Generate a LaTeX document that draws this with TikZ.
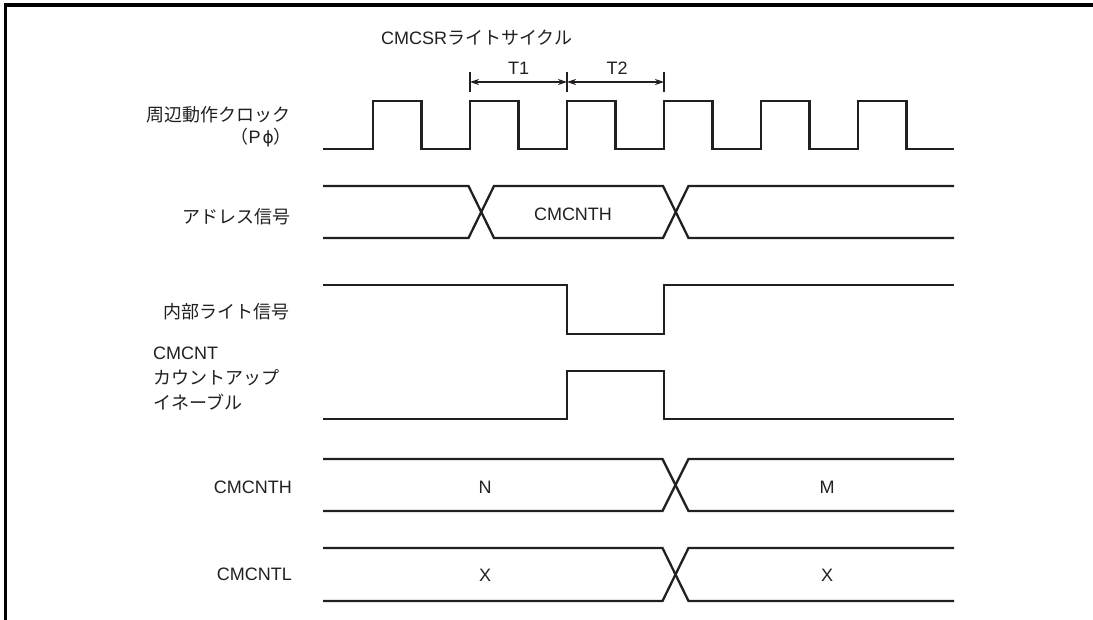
\documentclass[tikz,border=0pt]{standalone}
\usepackage{fontspec}
\setmainfont{Liberation Sans}
\newfontfamily\cjk{Noto Sans CJK JP}
\newfontfamily\djv{DejaVu Sans}
\usetikzlibrary{arrows.meta}
\definecolor{ink}{RGB}{35,31,32}
\tikzset{
  wave/.style={draw=ink, line width=2.3pt, line join=miter},
  lbl/.style={inner sep=0pt, text=ink, font=\fontsize{18}{21}\selectfont},
  dim/.style={draw=ink, line width=1.1pt, {Stealth[length=9pt,width=6pt]}-{Stealth[length=9pt,width=6pt]}},
  tick/.style={draw=ink, line width=1.1pt},
  frame/.style={draw=black, line width=3.2pt}
}
\begin{document}
\begin{tikzpicture}[x=1pt,y=-1pt]
\useasboundingbox (0,0) rectangle (1093,620);
% frame (top and left edges)
\draw[frame] (5.5,620) -- (5.5,5) -- (1093,5);

% title
\node[lbl, anchor=west] (title) at (381,37.5) {CMCSR{\cjk ライトサイクル}};

% T1 / T2 dimension marks
\coordinate (t0) at (470,82);
\coordinate (t1) at (567,82);
\coordinate (t2) at (664,82);
\draw[tick] (470,72) -- (470,92);
\draw[tick] (567,72) -- (567,92);
\draw[tick] (664,72) -- (664,92);
\draw[dim] (t0) -- (t1);
\draw[dim] (t1) -- (t2);
\node[lbl] (T1) at (518.5,68) {T1};
\node[lbl] (T2) at (617,68) {T2};

% clock
\node[lbl, anchor=east] (clk) at (291,115) {\cjk 周辺動作クロック};
\node[lbl, anchor=east] (clk2) at (292,138) {{\cjk （}P\kern2pt{\djv\fontsize{17}{21}\selectfont ϕ}{\cjk ）}};
\draw[wave] (323,149) -- (373,149) -- (373,101) -- (421.5,101) -- (421.5,149)
  -- (470,149) -- (470,101) -- (518.5,101) -- (518.5,149)
  -- (567,149) -- (567,101) -- (615.5,101) -- (615.5,149)
  -- (664,149) -- (664,101) -- (712.5,101) -- (712.5,149)
  -- (761,149) -- (761,101) -- (809.5,101) -- (809.5,149)
  -- (858,149) -- (858,101) -- (906.5,101) -- (906.5,149) -- (954,149);

% address
\node[lbl, anchor=east] (addr) at (291,217) {\cjk アドレス信号};
\draw[wave] (323,186) -- (468.5,186) -- (494,238) -- (663,238) -- (688.5,186) -- (954,186);
\draw[wave] (323,238) -- (468.5,238) -- (494,186) -- (663,186) -- (688.5,238) -- (954,238);
\node[lbl] (addrv) at (573,214) {CMCNTH};

% internal write
\node[lbl, anchor=east] (wr) at (290,312) {\cjk 内部ライト信号};
\draw[wave] (323,285) -- (567,285) -- (567,334) -- (664,334) -- (664,285) -- (954,285);

% count up enable
\node[lbl, anchor=west, align=left, font=\fontsize{18}{25}\selectfont] (en) at (153,379)
  {CMCNT\\{\cjk カウントアップ}\\{\cjk イネーブル}};
\draw[wave] (323,419) -- (567,419) -- (567,371) -- (664,371) -- (664,419) -- (954,419);

% CMCNTH
\node[lbl, anchor=east] (hl) at (292,487) {CMCNTH};
\draw[wave] (323,459) -- (662.5,459) -- (688.5,511) -- (954,511);
\draw[wave] (323,511) -- (662.5,511) -- (688.5,459) -- (954,459);
\node[lbl] (hN) at (485,487) {N};
\node[lbl] (hM) at (827,487) {M};

% CMCNTL
\node[lbl, anchor=east] (ll) at (292,574) {CMCNTL};
\draw[wave] (323,548) -- (662.5,548) -- (688.5,601) -- (954,601);
\draw[wave] (323,601) -- (662.5,601) -- (688.5,548) -- (954,548);
\node[lbl] (lX1) at (485,575) {X};
\node[lbl] (lX2) at (827,575) {X};
\end{tikzpicture}
\end{document}
